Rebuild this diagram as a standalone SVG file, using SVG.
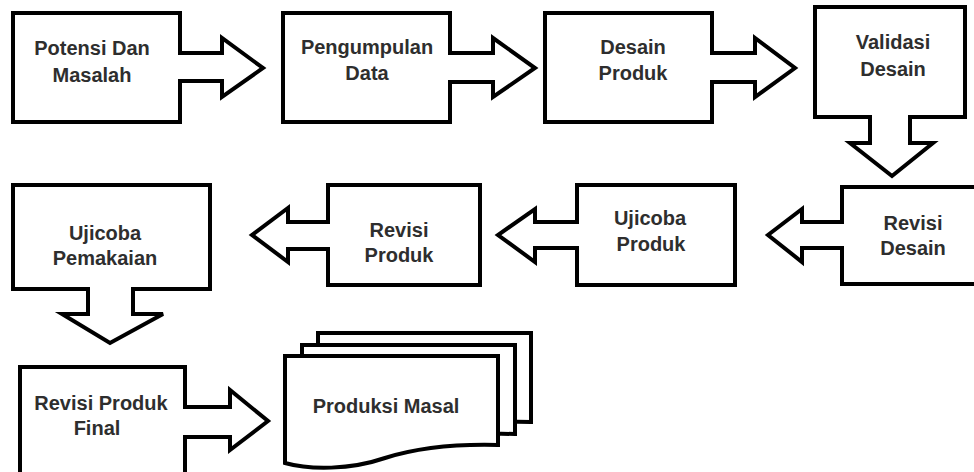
<svg xmlns="http://www.w3.org/2000/svg" width="974" height="472" viewBox="0 0 974 472">
<style>
.box{fill:#fff;stroke:#000;stroke-width:4;stroke-linejoin:miter}
.arr{fill:#fff;stroke:#000;stroke-width:4;stroke-linejoin:miter}
.t{font-family:"Liberation Sans",Arial,sans-serif;font-weight:bold;font-size:20px;fill:#2e2e2e;text-anchor:middle}
</style>
<defs>
<path id="doc" d="M285,356 H498 V445 C460,444 420,447 385,458 C350,470 310,470 285,463 Z"/>
</defs>
<rect width="974" height="472" fill="#fff"/>
<g id="n1"><rect class="box" x="13" y="13" width="167" height="109"/><text class="t" x="92" y="55">Potensi Dan</text><text class="t" x="92" y="82">Masalah</text></g>
<g id="n2"><rect class="box" x="283" y="13" width="167" height="109"/><text class="t" x="367" y="54">Pengumpulan</text><text class="t" x="367" y="80">Data</text></g>
<g id="n3"><rect class="box" x="545" y="13" width="167" height="109"/><text class="t" x="633" y="54">Desain</text><text class="t" x="633" y="80">Produk</text></g>
<g id="n4"><rect class="box" x="815" y="7" width="150" height="110"/><text class="t" x="893" y="49">Validasi</text><text class="t" x="893" y="76">Desain</text></g>
<g id="n5"><rect class="box" x="842" y="187" width="140" height="97"/><text class="t" x="913" y="230">Revisi</text><text class="t" x="913" y="255">Desain</text></g>
<g id="n6"><rect class="box" x="577" y="185" width="158" height="100"/><text class="t" x="650" y="225">Ujicoba</text><text class="t" x="651" y="251">Produk</text></g>
<g id="n7"><rect class="box" x="328" y="185" width="152" height="100"/><text class="t" x="399" y="237">Revisi</text><text class="t" x="399" y="262">Produk</text></g>
<g id="n8"><rect class="box" x="13" y="185" width="197" height="104"/><text class="t" x="105" y="240">Ujicoba</text><text class="t" x="105" y="265">Pemakaian</text></g>
<g id="n9"><rect class="box" x="20" y="367" width="165" height="120"/><text class="t" x="101" y="410">Revisi Produk</text><text class="t" x="97" y="435">Final</text></g>
<g id="n10">
<use href="#doc" class="box" transform="translate(33,-23)"/>
<use href="#doc" class="box" transform="translate(17,-11)"/>
<use href="#doc" class="box"/>
<text class="t" x="386" y="413">Produksi Masal</text>
</g>
<g id="connectors">
<path class="arr" d="M178,53 H222 V38 L263,68 L222,97 V81 H178"/>
<path class="arr" d="M448,53 H493 V38 L535,68 L493,97 V82 H448"/>
<path class="arr" d="M710,53 H755 V38 L795,68 L755,97 V82 H710"/>
<path class="arr" d="M870,115 V143 H850 L892,176 L933,143 H910 V115"/>
<path class="arr" d="M844,222 H802 V209 L768,235 L802,262 V248 H844"/>
<path class="arr" d="M579,222 H535 V209 L498,235 L535,262 V248 H579"/>
<path class="arr" d="M330,222 H288 V208 L252,235 L288,262 V249 H330"/>
<path class="arr" d="M88,287 V314 H62 L110,343 L163,314 H133 V287"/>
<path class="arr" d="M183,407 H230 V390 L268,421 L230,450 V437 H183"/>
</g>
</svg>
